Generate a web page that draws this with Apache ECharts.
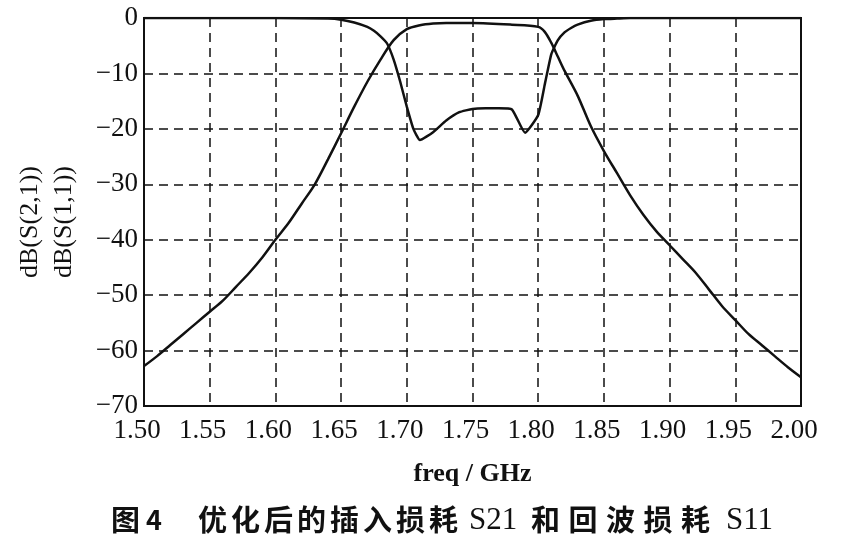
<!DOCTYPE html>
<html><head><meta charset="utf-8">
<script src="https://cdn.jsdelivr.net/npm/echarts@6/dist/echarts.min.js"></script>
<style>html,body{margin:0;padding:0;background:#fff}#c{width:841px;height:550px}</style>
</head><body><div id="c"></div>
<script>
// S21 (insertion loss)
const s21Freq = [1.50,1.51,1.52,1.53,1.54,1.55,1.56,1.57,1.58,1.59,1.60,1.61,1.62,1.63,1.64,1.65,1.66,1.67,1.68,1.69,1.70,1.71,1.72,1.73,1.75,1.78,1.80,1.805,1.81,1.815,1.82,1.83,1.84,1.85,1.86,1.87,1.88,1.89,1.90,1.91,1.92,1.93,1.94,1.95,1.96,1.97,1.98,1.99,2.00];
const s21Vals = [-62.8,-61,-59,-57,-55,-53,-51,-48.5,-46,-43.2,-40,-37,-33.5,-30,-25.5,-20.8,-16,-11.5,-7.5,-4,-2,-1.3,-1.0,-0.9,-0.9,-1.2,-1.6,-2.5,-4.5,-7,-9.5,-14,-19.5,-24,-28,-32,-35.5,-38.5,-41,-43.5,-46,-49,-52,-54.5,-57,-59,-61,-63,-64.8];
// S11 (return loss)
const s11Freq = [1.50,1.60,1.64,1.65,1.66,1.67,1.675,1.68,1.685,1.69,1.695,1.70,1.705,1.71,1.72,1.73,1.74,1.75,1.76,1.77,1.78,1.79,1.80,1.805,1.81,1.815,1.82,1.825,1.83,1.84,1.85,1.86,1.87,2.00];
const s11Vals = [0,0,-0.1,-0.3,-0.8,-1.6,-2.3,-3.3,-4.6,-7.5,-11.5,-16,-20,-22,-20.6,-18.5,-17,-16.4,-16.3,-16.3,-16.5,-20.7,-17.5,-12,-6.5,-4,-2.6,-1.8,-1.2,-0.5,-0.2,-0.1,0,0];
const xTicks = {min:1.50, max:2.00, step:0.05};
const yTicks = {min:-70, max:0, step:10};
const yNames = ['dB(S(2,1))','dB(S(1,1))'];
const xName = 'freq / GHz';
const captionParts = [
  {t:'图',cjk:true,x:111},{t:'4',cjk:false,x:146},
  {t:'优化后的插入损耗',cjk:true,x:198,adv:33},
  {t:'S21',cjk:false,x:469},
  {t:'和回波损耗',cjk:true,x:531,adv:37.5},
  {t:'S11',cjk:false,x:726}
];

const zip = (a,b)=>a.map((v,i)=>[v,b[i]]);
const serif = '"Liberation Serif","DejaVu Serif",serif';
const cjkFont = '"Noto Sans CJK SC"';

const captionEls = [];
captionParts.forEach(p=>{
  if(p.cjk){
    [...p.t].forEach((ch,i)=>captionEls.push({type:'text',x:p.x+i*(p.adv||0),y:520,
      style:{text:ch,font:'bold 29px '+cjkFont,fill:'#111',verticalAlign:'middle'}}));
  } else if(p.t==='4'){
    captionEls.push({type:'text',x:p.x,y:520,style:{text:p.t,font:'bold 27px '+cjkFont,fill:'#111',verticalAlign:'middle'}});
  } else {
    captionEls.push({type:'text',x:p.x,y:521,style:{text:p.t,font:'31px '+serif,fill:'#111',verticalAlign:'middle'}});
  }
});

const chart = echarts.init(document.getElementById('c'));
chart.setOption({
  animation:false,
  backgroundColor:'#fff',
  grid:{left:144,right:40,top:18,bottom:144,show:true,borderColor:'#111',borderWidth:2,backgroundColor:'transparent'},
  xAxis:{type:'value',min:xTicks.min,max:xTicks.max,interval:xTicks.step,
    name:xName,nameLocation:'middle',nameGap:55,
    nameTextStyle:{fontFamily:serif,fontSize:26,color:'#111',fontWeight:'bold'},
    axisLine:{lineStyle:{color:'#111',width:2}},axisTick:{show:false},
    axisLabel:{fontFamily:serif,fontSize:27,color:'#111',margin:11,padding:[0,14,0,0],formatter:v=>v.toFixed(2)},
    splitLine:{show:true,lineStyle:{color:'#111',type:[9,6],width:1.5}}},
  yAxis:{type:'value',min:yTicks.min,max:yTicks.max,interval:yTicks.step,
    axisLine:{lineStyle:{color:'#111',width:2}},axisTick:{show:false},
    axisLabel:{fontFamily:serif,fontSize:27,color:'#111',margin:6,formatter:v=>String(v).replace('-','−')},
    splitLine:{show:true,lineStyle:{color:'#111',type:[9,6],width:1.5}}},
  graphic:[{type:'text',rotation:Math.PI/2,x:47,y:222,
    style:{text:yNames.join('\n'),font:'26px '+serif,fill:'#111',align:'center',verticalAlign:'middle',lineHeight:34}}].concat(captionEls),
  series:[
    {type:'line',data:zip(s21Freq,s21Vals),showSymbol:false,smooth:0.3,lineStyle:{color:'#111',width:2.5}},
    {type:'line',data:zip(s11Freq,s11Vals),showSymbol:false,smooth:0.15,lineStyle:{color:'#111',width:2.5}}
  ]
});
</script></body></html>
